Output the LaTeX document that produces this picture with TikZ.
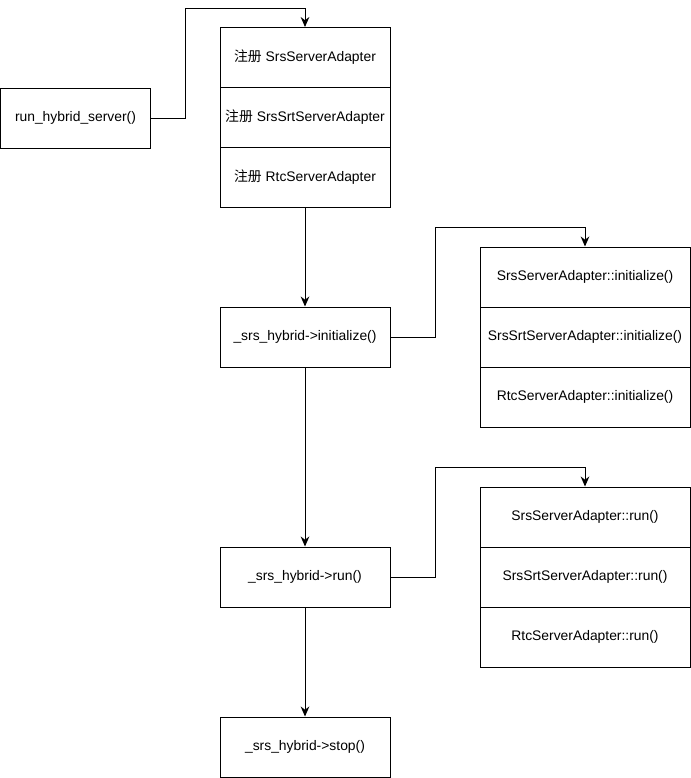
\documentclass[tikz,border=0pt]{standalone}
\usepackage{fontspec}
\setmainfont{Liberation Sans}
\newfontfamily\cjk{Noto Sans CJK SC}
\usetikzlibrary{arrows.meta}
\begin{document}
\begin{tikzpicture}[x=0.75pt,y=-0.75pt,
  box/.style={draw,line width=0.75pt,minimum width=127.5pt,minimum height=45pt,inner sep=0pt,
    font=\fontsize{10.4}{12}\selectfont},
  widebox/.style={box,minimum width=157.5pt},
  smallbox/.style={box,minimum width=112.5pt},
  arr/.style={draw,line width=0.75pt,-{Stealth[length=7.5pt,width=6.5pt]}}]
\useasboundingbox (0,0) rectangle (691,778);
% left function
\node[smallbox] (rhs) at (75.5,118) {run\_hybrid\_server()};
% registration stack
\node[box] (r1) at (305,57.5) {{\cjk 注册} SrsServerAdapter};
\node[box] (r2) at (305,117.5) {{\cjk 注册} SrsSrtServerAdapter};
\node[box] (r3) at (305,177.5) {{\cjk 注册} RtcServerAdapter};
% main flow
\node[box] (init) at (305,337) {\_srs\_hybrid->initialize()};
\node[box] (run) at (305,577) {\_srs\_hybrid->run()};
\node[box] (stop) at (305,747) {\_srs\_hybrid->stop()};
% initialize stack
\node[widebox] (a1) at (585,277) {SrsServerAdapter::initialize()};
\node[widebox] (a2) at (585,337) {SrsSrtServerAdapter::initialize()};
\node[widebox] (a3) at (585,397) {RtcServerAdapter::initialize()};
% run stack
\node[widebox] (b1) at (585,517) {SrsServerAdapter::run()};
\node[widebox] (b2) at (585,577) {SrsSrtServerAdapter::run()};
\node[widebox] (b3) at (585,637) {RtcServerAdapter::run()};
% bend points
\coordinate (c1) at (185,8);
\coordinate (c2) at (435,227);
\coordinate (c3) at (435,467);
% connectors
\draw[arr] (rhs.east) -| (c1) -| (r1.north);
\draw[arr] (r3.south) -- (init.north);
\draw[arr] (init.east) -| (c2) -| (a1.north);
\draw[arr] (init.south) -- (run.north);
\draw[arr] (run.east) -| (c3) -| (b1.north);
\draw[arr] (run.south) -- (stop.north);
\end{tikzpicture}
\end{document}
